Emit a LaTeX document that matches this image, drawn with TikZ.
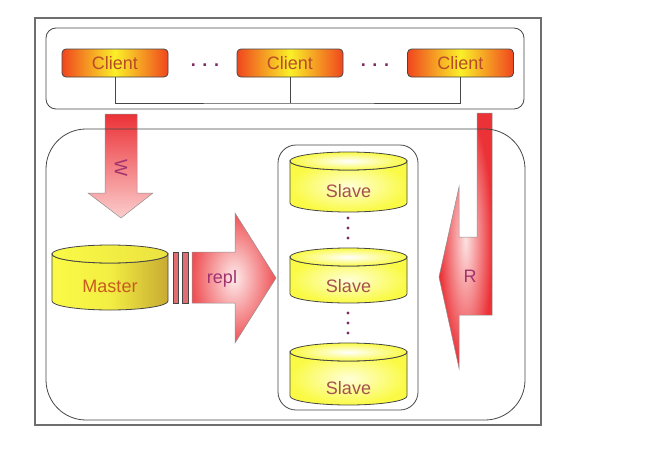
\documentclass[tikz,border=0pt]{standalone}
\usepackage{fontspec}
\setmainfont{Liberation Sans}
\definecolor{lineC}{RGB}{70,70,70}
\definecolor{frameC}{RGB}{110,110,110}
\definecolor{clientT}{RGB}{185,75,40}
\definecolor{masterT}{RGB}{200,90,30}
\definecolor{slaveT}{RGB}{165,80,80}
\definecolor{arrowT}{RGB}{160,50,110}
\definecolor{dotC}{RGB}{130,40,100}
\definecolor{cliOut}{RGB}{240,70,30}
\definecolor{cliIn}{RGB}{250,240,40}
\definecolor{arrRed}{RGB}{235,50,55}
\definecolor{arrPink}{RGB}{252,205,205}
\definecolor{cylY}{RGB}{250,250,70}
\definecolor{cylL}{RGB}{255,255,215}
\definecolor{cylG}{RGB}{200,170,50}
\definecolor{barC}{RGB}{225,110,115}
\newcommand\dbcyl[7]{%
  \path[draw=lineC,line width=0.8pt,#5]
    ({#2-#3},{-#4-9}) -- ({#2-#3},{-#7+9})
    arc[start angle=180,end angle=360,x radius=#3,y radius=9]
    -- ({#2+#3},{-#4-9})
    arc[start angle=0,end angle=-180,x radius=#3,y radius=9] -- cycle;
  \path[draw=lineC,line width=0.8pt,#6] ({#2},{-#4-9}) ellipse[x radius=#3,y radius=9];
}
\begin{document}
\begin{tikzpicture}[x=1pt,y=1pt,
  font=\fontsize{18}{20}\selectfont,
  boxline/.style={draw=lineC,line width=0.8pt},
  client/.style={draw=lineC,line width=0.8pt,rounded corners=4pt,
    minimum width=106pt,minimum height=28pt,inner sep=0pt,
    left color=cliOut,right color=cliOut,middle color=cliIn,text=clientT},
  arrowshape/.style={draw=lineC!60,line width=0.5pt},
  arrlabel/.style={text=arrowT,inner sep=0pt},
  dotlabel/.style={text=dotC,inner sep=0pt,anchor=base,font=\fontsize{18}{20}\selectfont\bfseries},
  slavebody/.style={shading=radial,inner color=cylL,outer color=cylY},
  slavetop/.style={shading=radial,inner color=white,outer color=cylY},
  dbtext/.style={inner sep=0pt}]
\useasboundingbox (0,0) rectangle (656,-466);
% outer frame
\draw[draw=frameC,line width=1.1pt] (35,-18) rectangle (541,-425);
% arrows W and R (drawn under the box lines)
\draw[arrowshape,top color=arrRed,bottom color=arrPink]
  (105,-114) -- (137,-114) -- (137,-193) -- (153,-193) -- (121,-218)
  -- (88,-193) -- (105,-193) -- cycle;
\node[arrlabel,rotate=-90] (wl) at (121,-168) {W};
\draw[arrowshape,shading=radial,inner color=arrPink!60!white,outer color=arrRed]
  (477,-113) -- (492,-113) -- (492,-315) -- (459,-315) -- (459,-368)
  -- (439,-277) -- (459,-187) -- (459,-237) -- (477,-237) -- cycle;
\node[arrlabel] (rl) at (470,-276) {R};
% client container
\draw[boxline,rounded corners=10pt] (46,-28) rectangle (524,-109);
\node[client] (c1) at (115,-63) {Client};
\node[client] (c2) at (290,-63) {Client};
\node[client] (c3) at (460.5,-63) {Client};
\node[dotlabel] (d1) at (205,-66) {. . .};
\node[dotlabel] (d2) at (375,-66) {. . .};
\coordinate (bus) at (290,-103);
\draw[boxline] (c1.south) |- (bus) -| (c3.south);
\draw[boxline] (c2.south) -- (bus);
% main container
\draw[boxline,rounded corners=40pt] (46,-129) rectangle (525,-420);
% master
\dbcyl{m}{110}{58}{245}{left color=cylY,right color=cylG,middle color=cylY!85!cylG}{left color=cylY,right color=cylY!70!cylG}{310}
\node[dbtext,text=masterT] (master) at (110,-286) {Master};
% replication bars and arrow
\draw[boxline,line width=0.6pt,fill=barC] (173,-252) rectangle (178,-303);
\draw[boxline,line width=0.6pt,fill=barC] (182,-252) rectangle (188,-303);
\draw[arrowshape,shading=radial,inner color=arrPink!40!white,outer color=arrRed!80!arrPink]
  (192,-252) -- (235,-252) -- (235,-213) -- (276,-278) -- (235,-343)
  -- (235,-303) -- (192,-303) -- cycle;
\node[arrlabel] (repl) at (222,-279) {repl};
% slave container
\draw[boxline,rounded corners=18pt] (278,-145) rectangle (418,-410);
\dbcyl{s1}{348.5}{58.5}{152}{slavebody}{slavetop}{212}
\node[dbtext,text=slaveT] (slave1) at (348.5,-191) {Slave};
\dbcyl{s2}{348.5}{58.5}{248}{slavebody}{slavetop}{303}
\node[dbtext,text=slaveT] (slave2) at (348.5,-286) {Slave};
\dbcyl{s3}{348.5}{58.5}{343}{slavebody}{slavetop}{405}
\node[dbtext,text=slaveT] (slave3) at (348.5,-388) {Slave};
% vertical dots
\foreach \y in {218,228,238,313,323,333}
  \fill[dotC] (348,-\y) circle (1.6);
\end{tikzpicture}
\end{document}
